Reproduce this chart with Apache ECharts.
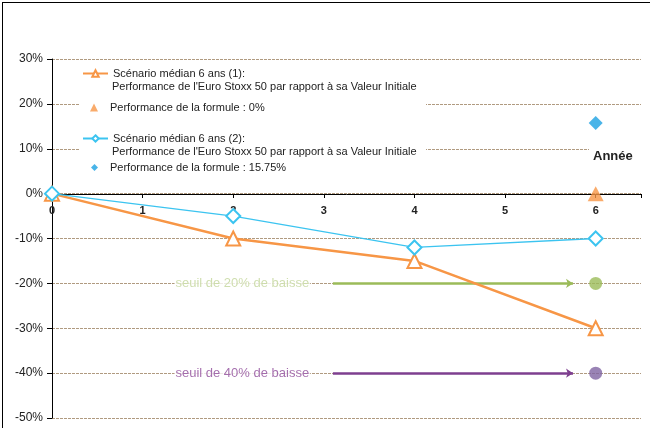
<!DOCTYPE html>
<html><head><meta charset="utf-8">
<script src="https://cdn.jsdelivr.net/npm/echarts@6/dist/echarts.min.js"></script>
<style>html,body{margin:0;padding:0;background:#fff}#c{width:650px;height:428px}</style>
</head><body><div id="c"></div>
<script>
// ---- data ----
const years = [0, 2, 4, 6];
const scenario1 = [0, -10, -15, -30];      // % Euro Stoxx 50, scenario (1)
const scenario2 = [0, -5, -12, -10];       // % Euro Stoxx 50, scenario (2)
const formula1 = [[6, 0]];                 // Performance de la formule : 0%
const formula2 = [[6, 15.75]];             // Performance de la formule : 15.75%
const threshold20 = -20;
const threshold40 = -40;
const arrowFrom = 3.1, arrowTo = 5.75, thresholdLabelX = 2.1, thresholdPointX = 6;
const yTicks = [-50, -40, -30, -20, -10, 0, 10, 20, 30];
const xTicks = [0, 1, 2, 3, 4, 5, 6];
const name1 = 'Scénario médian 6 ans (1):';
const name2 = 'Performance de la formule : 0%';
const name3 = 'Scénario médian 6 ans (2):';
const name4 = 'Performance de la formule : 15.75%';
const subLine = "Performance de l'Euro Stoxx 50 par rapport à sa Valeur Initiale";
const label20 = 'seuil de 20% de baisse';
const label40 = 'seuil de 40% de baisse';

const FONT = 'Liberation Sans, Arial, sans-serif';
const ORANGE = '#F79646', BLUE = '#3CC4F0', BLUE2 = '#1BA1E2', GREEN = '#9BBB59', PURPLE = '#8064A2', PURPLE_LINE = '#7E3F8F';

const pair = (xs, ys) => xs.map((x, i) => [x, ys[i]]);

const chart = echarts.init(document.getElementById('c'), null, {renderer: 'canvas'});
const legendBase = {orient: 'vertical', left: 82, itemWidth: 25, itemHeight: 8, padding: 0,
  textStyle: {fontFamily: FONT, fontSize: 11, color: '#222'}, selectedMode: false};

const GRID_TOP = 59, GRID_BOTTOM = 10, H = 428;
const plotH = H - GRID_TOP - GRID_BOTTOM;
const zeroOffset = -Math.round(plotH * (0 - yTicks[0]) / (yTicks[yTicks.length - 1] - yTicks[0]));

chart.setOption({
  animation: false,
  backgroundColor: '#fff',
  grid: {left: 52, right: 9, top: GRID_TOP, bottom: GRID_BOTTOM, containLabel: false, outerBoundsMode: 'none'},
  xAxis: {
    type: 'value', min: 0, max: 6.5, interval: 1, position: 'bottom', offset: zeroOffset,
    axisLine: {onZero: false, lineStyle: {color: '#000', width: 1}},
    axisTick: {show: true, inside: false, length: 4, lineStyle: {color: '#000'}},
    axisLabel: {fontFamily: FONT, fontSize: 11, fontWeight: 'bold', color: '#222', margin: 11,
      formatter: v => xTicks.includes(v) ? String(v) : ''},
    splitLine: {show: false}
  },
  yAxis: {
    type: 'value', min: yTicks[0], max: yTicks[yTicks.length - 1], interval: 10,
    axisLine: {show: true, lineStyle: {color: '#000', width: 1}},
    axisTick: {show: true, length: 5, lineStyle: {color: '#000'}},
    axisLabel: {fontFamily: FONT, fontSize: 12, color: '#222', margin: 9, formatter: v => v + '%'},
    splitLine: {show: true, lineStyle: {color: '#B09A80', type: [3, 1], width: 1}}
  },
  legend: [
    Object.assign({}, legendBase, {top: 68, data: [name1]}),
    Object.assign({}, legendBase, {top: 102, left: 90, itemWidth: 8, itemHeight: 8,
      textStyle: Object.assign({}, legendBase.textStyle, {padding: [0, 0, 0, 7]}), data: [name2]}),
    Object.assign({}, legendBase, {top: 133, data: [name3]}),
    Object.assign({}, legendBase, {top: 162, left: 91, itemWidth: 7, itemHeight: 7,
      textStyle: Object.assign({}, legendBase.textStyle, {padding: [0, 0, 0, 7]}), data: [name4]})
  ],
  graphic: [
    {type: 'rect', left: 80, top: 64, z: 3, silent: true, shape: {width: 346, height: 116}, style: {fill: '#fff'}},
    {type: 'text', left: 112, top: 81, z: 5, style: {text: subLine, fill: '#222', font: '11px ' + FONT}},
    {type: 'text', left: 112, top: 146, z: 5, style: {text: subLine, fill: '#222', font: '11px ' + FONT}},
    {type: 'text', left: 589, top: 147, z: 5, style: {text: 'Année', fill: '#222', font: 'bold 13px ' + FONT,
      backgroundColor: '#fff', padding: [3, 20, 3, 4]}}
  ],
  series: [
    {name: name1, type: 'line', data: pair(years, scenario1), z: 3,
      lineStyle: {color: ORANGE, width: 2.5}, itemStyle: {color: ORANGE, borderColor: ORANGE, borderWidth: 1},
      symbol: 'emptyTriangle', symbolSize: 14, showAllSymbol: true},
    {name: name2, type: 'scatter', data: formula1, symbol: 'triangle', symbolSize: [16, 15], z: 4,
      itemStyle: {color: ORANGE}},
    {name: name3, type: 'line', data: pair(years, scenario2), z: 3,
      lineStyle: {color: BLUE, width: 1.3}, itemStyle: {color: BLUE, borderColor: BLUE, borderWidth: 1},
      symbol: 'emptyDiamond', symbolSize: 14},
    {name: name4, type: 'scatter', data: formula2, symbol: 'diamond', symbolSize: 14, z: 4,
      itemStyle: {color: BLUE2}},
    {type: 'lines', coordinateSystem: 'cartesian2d', z: 3,
      symbol: ['none', 'arrow'], symbolSize: 7,
      lineStyle: {color: GREEN, width: 2.5, opacity: 1},
      data: [{coords: [[arrowFrom, threshold20], [arrowTo, threshold20]]}]},
    {type: 'lines', coordinateSystem: 'cartesian2d', z: 3,
      symbol: ['none', 'arrow'], symbolSize: 7,
      lineStyle: {color: PURPLE_LINE, width: 2.5, opacity: 1},
      data: [{coords: [[arrowFrom, threshold40], [arrowTo, threshold40]]}]},
    {type: 'scatter', symbol: 'circle', symbolSize: 13, z: 4,
      data: [{value: [thresholdPointX, threshold20], itemStyle: {color: GREEN}},
             {value: [thresholdPointX, threshold40], itemStyle: {color: PURPLE}}]},
    {type: 'scatter', symbolSize: 0, z: 4, silent: true,
      data: [{value: [thresholdLabelX, threshold20], label: {color: '#C3D69B'}},
             {value: [thresholdLabelX, threshold40], label: {color: '#8E4B9A'}}],
      label: {show: true, position: 'inside', fontFamily: FONT, fontSize: 13,
        backgroundColor: '#fff', padding: [1, 1],
        formatter: p => p.dataIndex === 0 ? label20 : label40},
      itemStyle: {color: 'transparent'},
      emphasis: {disabled: true}}
  ]
});
</script>
<div style="position:absolute;left:2px;top:2px;width:648px;height:426px;border-left:1px solid #000;border-top:1px solid #000;box-sizing:border-box;pointer-events:none"></div>
</body></html>
